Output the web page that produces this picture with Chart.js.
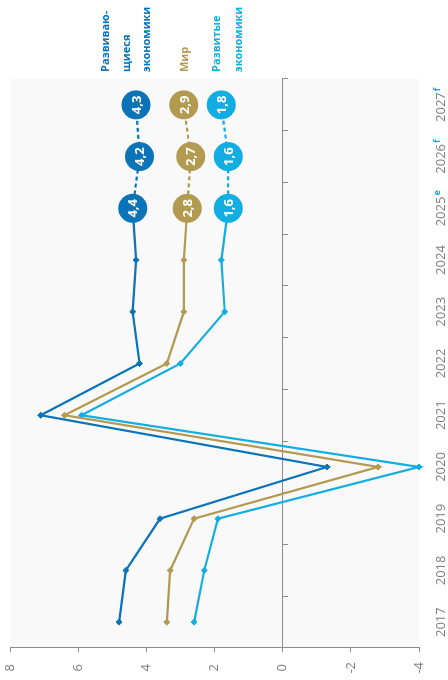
<!DOCTYPE html>
<html>
<head>
<meta charset="utf-8">
<script src="https://cdn.jsdelivr.net/npm/chart.js@4.4.1/dist/chart.umd.min.js"></script>
<style>
  html, body { margin: 0; padding: 0; background: #fff; }
  body { width: 448px; height: 680px; overflow: hidden; position: relative; }
  /* the whole chart is turned 90deg counter-clockwise */
  #wrap { position: absolute; left: 0; top: 0; width: 680px; height: 448px;
          transform-origin: 0 0; transform: translate(0, 680px) rotate(-90deg); }
</style>
</head>
<body>
<div id="wrap"><canvas id="myChart" width="680" height="448"></canvas></div>
<script>
// data
const years = ['2017', '2018', '2019', '2020', '2021', '2022', '2023', '2024', '2025', '2026', '2027'];
const yearMarks = ['', '', '', '', '', '', '', '', 'e', 'f', 'f'];
const emerging = [4.8, 4.6, 3.6, -1.3, 7.1, 4.2, 4.4, 4.3, 4.4, 4.2, 4.3];
const world = [3.4, 3.3, 2.6, -2.8, 6.4, 3.4, 2.9, 2.9, 2.8, 2.7, 2.9];
const advanced = [2.6, 2.3, 1.9, -4.0, 5.9, 3.0, 1.7, 1.8, 1.6, 1.6, 1.8];
const emergingName = ['Развиваю-', 'щиеся', 'экономики'];
const worldName = ['Мир'];
const advancedName = ['Развитые', 'экономики'];
const firstForecast = 8; // 2025e onwards shown in circles

const darkBlue = '#0b74b8';
const gold = '#b39a51';
const lightBlue = '#12ade2';
const grey = '#808080';

const ctx = document.getElementById('myChart');

function series(label, data, color) {
  return {
    label: label,
    data: data,
    borderColor: color,
    backgroundColor: color,
    borderWidth: 2.2,
    clip: false,
    pointStyle: c => c.dataIndex >= firstForecast ? 'circle' : 'rectRot',
    pointRadius: c => c.dataIndex >= firstForecast ? 14.5 : 3,
    pointBorderWidth: c => c.dataIndex >= firstForecast ? 0 : 1,
    pointBackgroundColor: color,
    pointBorderColor: color,
    segment: {
      borderDash: c => c.p0DataIndex >= firstForecast ? [4, 3] : undefined
    }
  };
}

const plotBackground = {
  id: 'plotBackground',
  beforeDraw(chart) {
    const a = chart.chartArea;
    chart.ctx.save();
    chart.ctx.fillStyle = '#f9f9f9';
    chart.ctx.fillRect(a.left, a.top, a.right - a.left, a.bottom - a.top);
    chart.ctx.restore();
  }
};

const circleValues = {
  id: 'circleValues',
  afterDatasetsDraw(chart) {
    const c = chart.ctx;
    c.save();
    c.font = 'bold 13px "Open Sans"';
    c.fillStyle = '#fff';
    c.textAlign = 'center';
    c.textBaseline = 'middle';
    chart.data.datasets.forEach((ds, di) => {
      chart.getDatasetMeta(di).data.forEach((pt, i) => {
        if (i < firstForecast) return;
        c.fillText(ds.data[i].toFixed(1).replace('.', ','), pt.x, pt.y + 1);
      });
    });
    c.restore();
  }
};

const yearLabels = {
  id: 'yearLabels',
  afterDraw(chart) {
    const c = chart.ctx;
    const xs = chart.scales.x;
    const base = chart.chartArea.bottom + 26;
    c.save();
    c.textAlign = 'left';
    c.textBaseline = 'alphabetic';
    years.forEach((yr, i) => {
      c.font = '13px "Open Sans"';
      const w1 = c.measureText(yr).width;
      c.font = 'bold 9px "Open Sans"';
      const w2 = yearMarks[i] ? c.measureText(yearMarks[i]).width + 1 : 0;
      const x0 = xs.getPixelForValue(i) - (w1 + w2) / 2;
      c.font = '13px "Open Sans"';
      c.fillStyle = grey;
      c.fillText(yr, x0, base);
      if (yearMarks[i]) {
        c.font = 'bold 9px "Open Sans"';
        c.fillStyle = lightBlue;
        c.fillText(yearMarks[i], x0 + w1 + 1, base - 5);
      }
    });
    c.restore();
  }
};

const endLabels = {
  id: 'endLabels',
  afterDraw(chart) {
    const c = chart.ctx;
    const x = chart.chartArea.right + 7;
    c.save();
    c.font = 'bold 11px "Open Sans"';
    c.textAlign = 'left';
    c.textBaseline = 'alphabetic';
    const blocks = [
      [emergingName, darkBlue, [109, 129.5, 150]],
      [worldName, gold, [188]],
      [advancedName, lightBlue, [220, 242]]
    ];
    blocks.forEach(b => {
      c.fillStyle = b[1];
      b[0].forEach((t, k) => c.fillText(t, x, b[2][k]));
    });
    c.restore();
  }
};

new Chart(ctx, {
  type: 'line',
  data: {
    labels: years,
    datasets: [
      series('Развивающиеся экономики', emerging, darkBlue),
      series('Мир', world, gold),
      series('Развитые экономики', advanced, lightBlue)
    ]
  },
  options: {
    responsive: false,
    animation: false,
    events: [],
    layout: { autoPadding: false, padding: { top: 10, bottom: 29, left: 0, right: 79 } },
    plugins: { legend: { display: false }, tooltip: { enabled: false } },
    scales: {
      x: {
        type: 'category',
        position: { y: 0 },
        offset: true,
        grid: {
          offset: true,
          drawOnChartArea: false,
          tickLength: 5,
          tickColor: c => (c.index === 0 || c.index === years.length) ? 'rgba(0,0,0,0)' : '#8c8c8c'
        },
        border: { color: '#8c8c8c', width: 1 },
        ticks: { display: false }
      },
      y: {
        min: -4,
        max: 8,
        ticks: {
          stepSize: 2,
          color: grey,
          font: { family: 'Open Sans', size: 13 },
          padding: 10,
          crossAlign: 'center'
        },
        grid: { drawOnChartArea: false, tickLength: 4, color: '#8c8c8c' },
        border: { color: '#8c8c8c', width: 1 },
        afterFit(s) {
          s.width = 32;
          s.paddingTop = 0;
          s.paddingBottom = 0;
        }
      }
    }
  },
  plugins: [plotBackground, circleValues, yearLabels, endLabels]
});
</script>
</body>
</html>
